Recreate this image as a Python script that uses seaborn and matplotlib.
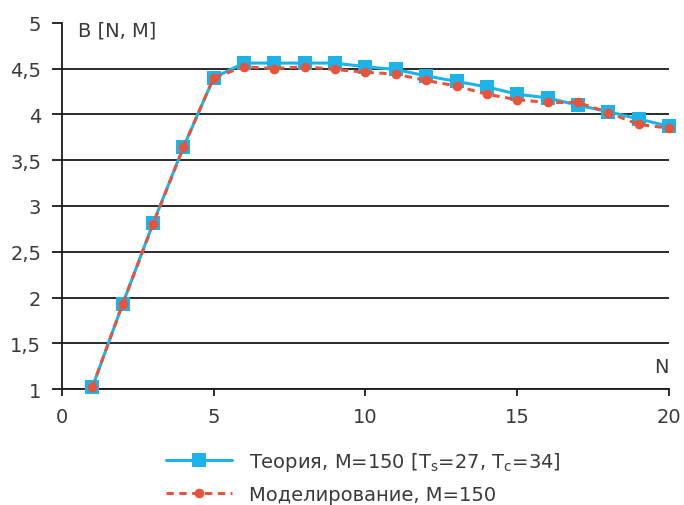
import numpy as np
import pandas as pd
import matplotlib
matplotlib.use("Agg")
import matplotlib.pyplot as plt
import seaborn as sns

N = list(range(1, 21))
theory = [1.02, 1.93, 2.81, 3.64, 4.40, 4.56, 4.56, 4.56, 4.56, 4.52,
          4.49, 4.42, 4.36, 4.30, 4.22, 4.18, 4.10, 4.03, 3.95, 3.87]
model = [1.02, 1.93, 2.80, 3.64, 4.40, 4.52, 4.50, 4.52, 4.49, 4.46,
         4.44, 4.37, 4.31, 4.22, 4.16, 4.13, 4.13, 4.02, 3.89, 3.85]
yticks = [1, 1.5, 2, 2.5, 3, 3.5, 4, 4.5, 5]
ytick_labels = ["1", "1,5", "2", "2,5", "3", "3,5", "4", "4,5", "5"]
xticks = [0, 5, 10, 15, 20]

lab_theory = "Теория, M=150 [T$_s$=27, T$_c$=34]"
lab_model = "Моделирование, M=150"

sns.set_style("white")
plt.rcParams['font.family'] = ['DejaVu Sans']
plt.rcParams['mathtext.default'] = 'regular'

txt = '#3a3a3a'
blue = '#1cb4e8'
red = '#e8533b'
fs = 14

fig = plt.figure(figsize=(6.84, 5.06), dpi=100)
ax = fig.add_axes([0.0906, 0.229, 0.8874, 0.724])

df = pd.DataFrame({"N": N, "theory": theory, "model": model})
sns.lineplot(data=df, x="N", y="theory", ax=ax, color=blue, lw=2.2,
             marker="s", markersize=9.5, markeredgewidth=0, label=lab_theory,
             zorder=3, clip_on=False)
sns.lineplot(data=df, x="N", y="model", ax=ax, color=red, lw=2.2,
             linestyle=(0, (2.4, 1.8)), marker="o", markersize=7,
             markeredgewidth=0, label=lab_model, zorder=4, clip_on=False)

ax.set_xlim(0, 20)
ax.set_ylim(1, 5)
for y in yticks[:-1]:
    ax.axhline(y, color='#1a1a1a', lw=1.3, zorder=1)
ax.set_yticks(yticks)
ax.set_yticklabels(ytick_labels)
ax.set_xticks(xticks)
ax.tick_params(axis='y', length=7, width=1.3, color='#1a1a1a', labelsize=fs,
               labelcolor=txt, pad=8, direction='out', left=True)
ax.tick_params(axis='x', length=5, width=1.3, color='#1a1a1a', labelsize=fs,
               labelcolor=txt, pad=8, direction='out', bottom=True)
for s in ['top', 'right']:
    ax.spines[s].set_visible(False)
ax.spines['left'].set_color('#1a1a1a')
ax.spines['left'].set_linewidth(1.3)
ax.spines['bottom'].set_color('#1a1a1a')
ax.spines['bottom'].set_linewidth(1.3)
ax.set_xlabel("")
ax.set_ylabel("")

ax.text(0.026, 1.005, "B [N, M]", transform=ax.transAxes, fontsize=fs,
        color=txt, ha='left', va='top')
ax.text(1.0, 0.035, "N", transform=ax.transAxes, fontsize=fs,
        color=txt, ha='right', va='bottom')

ax.legend(loc='upper left', bbox_to_anchor=(0.155, -0.14), frameon=False,
          fontsize=fs, labelcolor=txt, handlelength=3.4, handletextpad=0.9,
          labelspacing=0.6, borderpad=0)

fig.savefig("out.png", dpi=100)
